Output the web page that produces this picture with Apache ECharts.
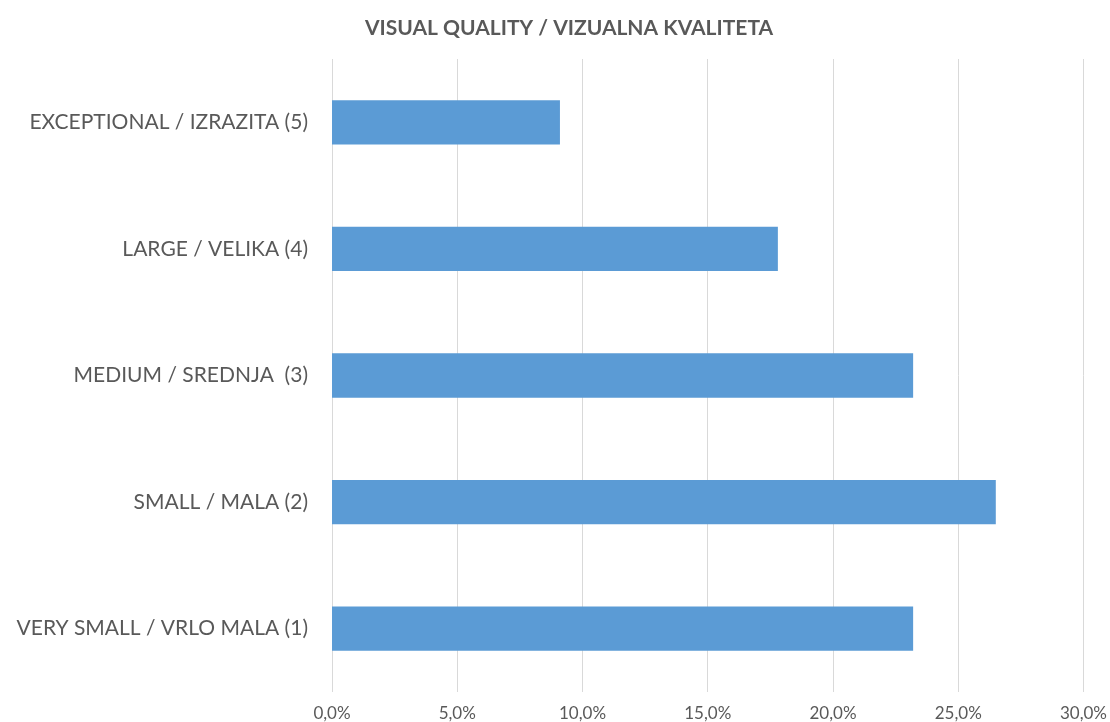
<!DOCTYPE html>
<html>
<head>
<meta charset="utf-8">
<script src="https://cdn.jsdelivr.net/npm/echarts@6/dist/echarts.min.js"></script>
<style>
  html, body { margin: 0; padding: 0; background: #fff; }
  #chart { width: 1110px; height: 722px; }
</style>
</head>
<body>
<div id="chart"></div>
<script>
// categories bottom to top, as the y axis draws them
const categories = [
  'VERY SMALL / VRLO MALA (1)',
  'SMALL / MALA (2)',
  'MEDIUM / SREDNJA  (3)',
  'LARGE / VELIKA (4)',
  'EXCEPTIONAL / IZRAZITA (5)'
]
const shares = [23.2, 26.5, 23.2, 17.8, 9.1]

const textColor = '#595959'
const fontName = 'Lato'

let myChart = echarts.init(document.getElementById('chart'))
myChart.setOption({
  animation: false,
  title: {
    text: 'VISUAL QUALITY / VIZUALNA KVALITETA',
    left: 564,
    textAlign: 'center',
    top: 13,
    textStyle: {
      fontFamily: fontName,
      fontSize: 21,
      fontWeight: 'bold',
      color: textColor
    }
  },
  grid: {
    left: 332,
    right: 22,
    top: 59,
    bottom: 30,
    containLabel: false
  },
  xAxis: {
    type: 'value',
    min: 0,
    max: 30,
    interval: 5,
    axisLine: { show: false },
    axisTick: { show: false },
    splitLine: {
      lineStyle: { color: '#d9d9d9', width: 1 }
    },
    axisLabel: {
      margin: 13,
      fontFamily: fontName,
      fontSize: 17,
      color: textColor,
      formatter: v => v.toFixed(1).replace('.', ',') + '%'
    }
  },
  yAxis: {
    type: 'category',
    data: categories,
    axisLine: { show: false },
    axisTick: { show: false },
    axisLabel: {
      margin: 24,
      fontFamily: fontName,
      fontSize: 21,
      color: textColor
    }
  },
  series: [
    {
      type: 'bar',
      data: shares,
      barCategoryGap: '65%',
      itemStyle: { color: '#5B9BD5' }
    }
  ]
})
</script>
</body>
</html>
